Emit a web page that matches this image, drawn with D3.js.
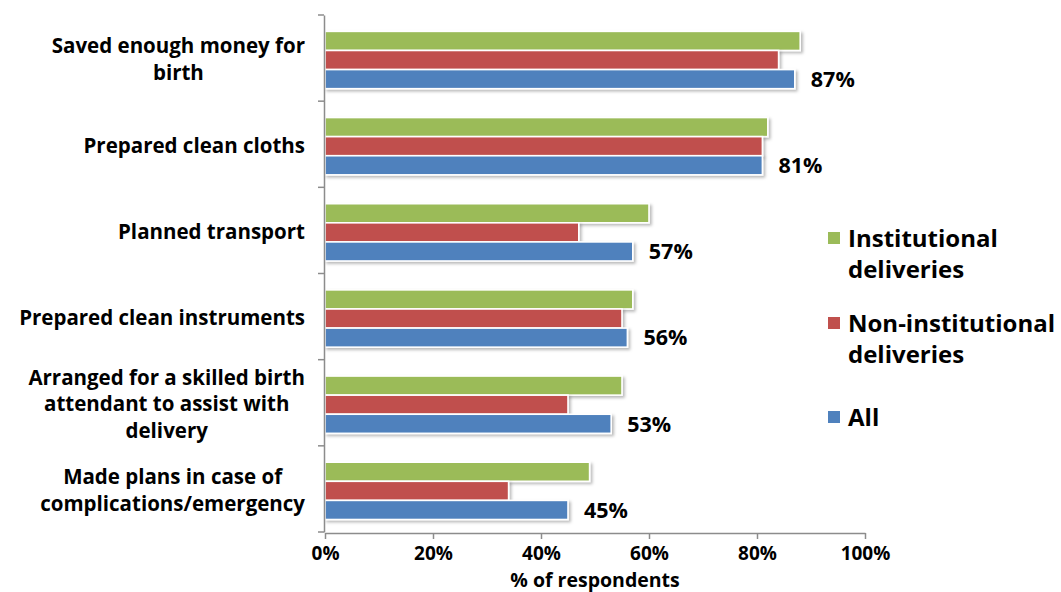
<!DOCTYPE html>
<html>
<head>
<meta charset="utf-8">
<script src="https://cdn.jsdelivr.net/npm/d3@7/dist/d3.min.js"></script>
<style>
  html, body { margin: 0; padding: 0; background: #fff; }
  svg { display: block; font-family: "Open Sans", Lato, sans-serif; font-weight: 700; }
</style>
</head>
<body>
<svg id="chart" width="1061" height="592"></svg>
<script>
// Birth preparedness actions, by place of delivery (% of respondents)
const categories = [
  ["Saved enough money for", "birth"],
  ["Prepared clean cloths"],
  ["Planned transport"],
  ["Prepared clean instruments"],
  ["Arranged for a skilled birth", "attendant to assist with", "delivery"],
  ["Made plans in case of", "complications/emergency"]
];
const seriesNames = ["Institutional deliveries", "Non-institutional deliveries", "All"];
const legendLines = [["Institutional", "deliveries"], ["Non-institutional", "deliveries"], ["All"]];
const institutional    = [88, 82, 60, 57, 55, 49];
const nonInstitutional = [84, 81, 47, 55, 45, 34];
const allDeliveries    = [87, 81, 57, 56, 53, 45];
const xTicks = [0, 20, 40, 60, 80, 100];
const colors = ["#9BBB59", "#C0504D", "#4F81BD"];

const seriesValues = [institutional, nonInstitutional, allDeliveries];
const catKeys = categories.map(c => c.join(" "));

const svg = d3.select("#chart");

const defs = svg.append("defs");
const f = defs.append("filter").attr("id", "shadow")
  .attr("x", "-5%").attr("y", "-30%").attr("width", "110%").attr("height", "170%");
f.append("feDropShadow").attr("dx", 2).attr("dy", 2).attr("stdDeviation", 1.5)
  .attr("flood-color", "#000").attr("flood-opacity", 0.28);

const x = d3.scaleLinear().domain([0, 100]).range([325, 865]);
const y = d3.scaleBand().domain(catKeys).range([15, 532]);
const yInner = d3.scaleBand().domain(seriesNames)
  .range([y.bandwidth() * 0.19, y.bandwidth() * 0.855]);

// Bars
const groups = svg.append("g").selectAll("g")
  .data(catKeys)
  .join("g")
  .attr("transform", d => `translate(0,${y(d)})`);

groups.selectAll("rect")
  .data((d, i) => seriesNames.map((s, j) => ({ s, j, v: seriesValues[j][i] })))
  .join("rect")
  .attr("x", x(0))
  .attr("y", d => yInner(d.s))
  .attr("width", d => x(d.v) - x(0))
  .attr("height", yInner.bandwidth())
  .attr("fill", (d) => colors[d.j])
  .attr("stroke", "#fff")
  .attr("stroke-width", 1.6)
  .attr("filter", "url(#shadow)");

// Value labels for "All"
groups.append("text")
  .attr("x", (d, i) => x(allDeliveries[i]) + 16)
  .attr("y", yInner("All") + yInner.bandwidth() / 2)
  .attr("dy", "0.36em")
  .attr("font-size", 21.5)
  .attr("fill", "#000")
  .text((d, i) => allDeliveries[i] + "%");

// Axes
const axisColor = "#8c8c8c";
const yAxis = svg.append("g")
  .attr("transform", `translate(${x(0) - 1},0)`)
  .call(d3.axisLeft(y).tickValues([]).tickSizeOuter(0));
yAxis.select(".domain").attr("stroke", axisColor).attr("stroke-width", 1.5);
// Boundary tick marks between categories
const bounds = catKeys.map(k => y(k)).concat([y.range()[1]]);
svg.append("g").selectAll("line").data(bounds).join("line")
  .attr("x1", x(0) - 7).attr("x2", x(0) - 1)
  .attr("y1", d => d).attr("y2", d => d)
  .attr("stroke", axisColor).attr("stroke-width", 1.5);

const xAxis = svg.append("g")
  .attr("transform", `translate(0,${y.range()[1] + 1})`)
  .call(d3.axisBottom(x).tickValues(xTicks).tickSize(6).tickSizeOuter(0)
    .tickFormat(d => d + "%"));
xAxis.select(".domain").attr("stroke", axisColor).attr("stroke-width", 1.5);
xAxis.selectAll(".tick line").attr("stroke", axisColor).attr("stroke-width", 1.5);
xAxis.selectAll(".tick text")
  .attr("font-size", 19).attr("font-family", "'Open Sans', sans-serif").attr("font-weight", 700)
  .attr("fill", "#000").attr("y", 13.5).attr("dy", "0.71em");

// Axis title
svg.append("text")
  .attr("x", (x(0) + x(100)) / 2)
  .attr("y", 587)
  .attr("text-anchor", "middle")
  .attr("font-size", 19.5)
  .attr("fill", "#000")
  .text("% of respondents");

// Category labels: block right-aligned to the axis, lines centred within the block
const lineH = 26.5;
const catG = svg.append("g").attr("font-size", 20.5).attr("fill", "#000");
categories.forEach((lines, i) => {
  const cy = y(catKeys[i]) + y.bandwidth() / 2 + 1;
  const t = catG.append("text").attr("text-anchor", "middle");
  const spans = lines.map((ln, k) => t.append("tspan")
    .attr("y", cy + (k - (lines.length - 1) / 2) * lineH)
    .attr("dy", "0.36em")
    .text(ln));
  const maxW = d3.max(spans, s => s.node().getComputedTextLength());
  const cx = 305 - maxW / 2;
  spans.forEach(s => s.attr("x", cx));
});

// Legend
const legend = svg.append("g").attr("font-size", 24).attr("fill", "#000");
const legendY = [238, 323, 417];
legendLines.forEach((lines, i) => {
  legend.append("rect")
    .attr("x", 828).attr("y", legendY[i] - 6)
    .attr("width", 12).attr("height", 12)
    .attr("fill", colors[i]);
  const t = legend.append("text");
  lines.forEach((ln, k) => t.append("tspan")
    .attr("x", 848).attr("y", legendY[i] + k * 31).attr("dy", "0.36em").text(ln));
});
</script>
</body>
</html>
